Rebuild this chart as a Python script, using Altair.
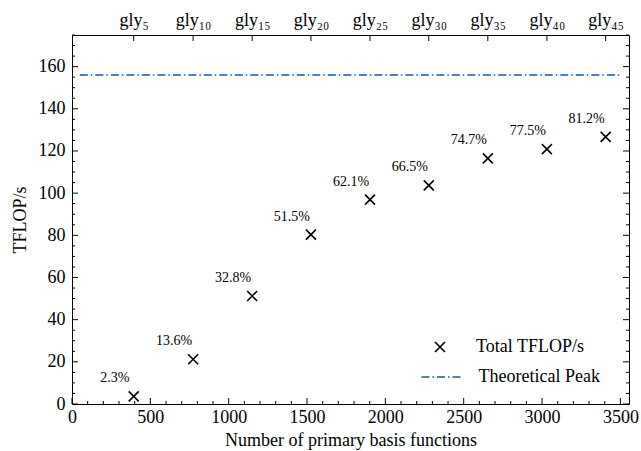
import altair as alt
import pandas as pd

# ---- data ----
n_basis = [394, 773, 1150, 1525, 1902, 2277, 2654, 3031, 3406]
gly_labels = ["gly₅", "gly₁₀", "gly₁₅", "gly₂₀", "gly₂₅", "gly₃₀", "gly₃₅", "gly₄₀", "gly₄₅"]
tflops = [3.6, 21.2, 51.2, 80.3, 96.9, 103.7, 116.5, 120.9, 126.7]
pct_labels = ["2.3%", "13.6%", "32.8%", "51.5%", "62.1%", "66.5%", "74.7%", "77.5%", "81.2%"]
peak_value = [156]
peak_start = [50]
peak_end = [3500]
x_major = [0, 500, 1000, 1500, 2000, 2500, 3000, 3500]
x_minor = [v for v in range(0, 3501, 100) if v % 500]
y_major = [0, 20, 40, 60, 80, 100, 120, 140, 160]
y_minor = [v for v in range(0, 176, 5) if v % 20]

FONT = "Times New Roman, Liberation Serif, serif"
W, H = 557, 369
XPATH = "M-1,-1L1,1M-1,1L1,-1"
BLUE = "#0C5DA5"

xs = alt.Scale(domain=[0, 3555], nice=False, zero=False)
ys = alt.Scale(domain=[0, 175], nice=False, zero=False)

df = pd.DataFrame({"n": n_basis, "t": tflops, "pct": pct_labels,
                   "series": ["Total TFLOP/s"] * len(n_basis)})
df_peak = pd.DataFrame({"x": peak_start, "x2": peak_end, "y": peak_value,
                        "series": ["Theoretical Peak"]})

label_expr = "[" + ",".join("'%s'" % g for g in gly_labels) + "][indexof([" + \
    ",".join(str(v) for v in n_basis) + "], datum.value)]"

pts = alt.Chart(df).mark_point(filled=False, color="black", strokeWidth=1.6, opacity=1, size=100).encode(
    x=alt.X("n:Q", scale=xs, axis=alt.Axis(
        values=x_major, ticks=False, domain=False, grid=False,
        title="Number of primary basis functions", labelFont=FONT, labelFontSize=18,
        titleFont=FONT, titleFontSize=18, titleFontWeight="normal", labelPadding=4,
        titlePadding=5, labelColor="black", titleColor="black", labelFlush=False,
        labelOverlap=False, format="d")),
    y=alt.Y("t:Q", scale=ys, axis=alt.Axis(
        values=y_major, ticks=False, domain=False, grid=False, title="TFLOP/s",
        labelFont=FONT, labelFontSize=18, titleFont=FONT, titleFontSize=18,
        titleFontWeight="normal", labelPadding=7, titlePadding=9, labelColor="black",
        titleColor="black", labelFlush=False, labelOverlap=False, format="d")),
    shape=alt.Shape("series:N", scale=alt.Scale(domain=["Total TFLOP/s"], range=[XPATH]),
                    legend=alt.Legend(title=None, orient="none", legendX=359, legendY=303,
                                      padding=0, labelFont=FONT, labelFontSize=18,
                                      labelColor="black", symbolStrokeColor="black",
                                      symbolStrokeWidth=1.6, symbolSize=100,
                                      symbolFillColor="transparent", labelOffset=27)),
)

labels = alt.Chart(df).mark_text(dx=-19, dy=-18, font=FONT, fontSize=14, color="black").encode(
    x=alt.X("n:Q", scale=xs, axis=None),
    y=alt.Y("t:Q", scale=ys, axis=None),
    text="pct:N",
)

peak = alt.Chart(df_peak).mark_rule(color=BLUE, strokeWidth=1.5).encode(
    x=alt.X("x:Q", scale=xs, axis=None),
    x2="x2:Q",
    y=alt.Y("y:Q", scale=ys, axis=None),
    strokeDash=alt.StrokeDash("series:N",
                              scale=alt.Scale(domain=["Theoretical Peak"], range=[[8, 3, 1.5, 3]]),
                              legend=alt.Legend(title=None, orient="none", legendX=348.5, legendY=321,
                                                padding=0, labelFont=FONT, labelFontSize=18,
                                                labelColor="black", symbolType="stroke",
                                                symbolStrokeColor=BLUE, symbolSize=1600,
                                                symbolStrokeWidth=1.5, labelOffset=16)),
)


def xticks(vals, length, top=False, axis=None):
    d = pd.DataFrame({"v": vals})
    y0 = 0 if top else H
    y1 = length if top else H - length
    return alt.Chart(d).mark_rule(color="black", strokeWidth=1).encode(
        x=alt.X("v:Q", scale=xs, axis=axis), y=alt.value(y0), y2=alt.value(y1))


def yticks(vals, length, right=False):
    d = pd.DataFrame({"v": vals})
    x0 = W if right else 0
    x1 = W - length if right else length
    return alt.Chart(d).mark_rule(color="black", strokeWidth=1).encode(
        y=alt.Y("v:Q", scale=ys, axis=None), x=alt.value(x0), x2=alt.value(x1))


top_axis = alt.Axis(orient="top", values=n_basis, labelExpr=label_expr, ticks=False,
                    domain=False, grid=False, title=None, labelFont=FONT, labelFontSize=18,
                    labelColor="black", labelPadding=6, labelFlush=False, labelOverlap=False)

layers = [
    pts, labels, peak,
    xticks(x_major, 6), xticks(x_minor, 3),
    xticks(n_basis, 6, top=True, axis=top_axis),
    yticks(y_major, 6), yticks(y_minor, 3),
    yticks(y_major, 6, right=True), yticks(y_minor, 3, right=True),
]

chart = alt.layer(*layers).resolve_axis(x="independent", y="independent").properties(
    width=W, height=H,
    autosize=alt.AutoSizeParams(type="none"),
    padding={"left": 72, "top": 35, "right": 641 - 72 - W, "bottom": 451 - 35 - H},
).configure_view(stroke="black", strokeWidth=1)

chart.save("out.html", embed_options={"renderer": "svg", "actions": False})
